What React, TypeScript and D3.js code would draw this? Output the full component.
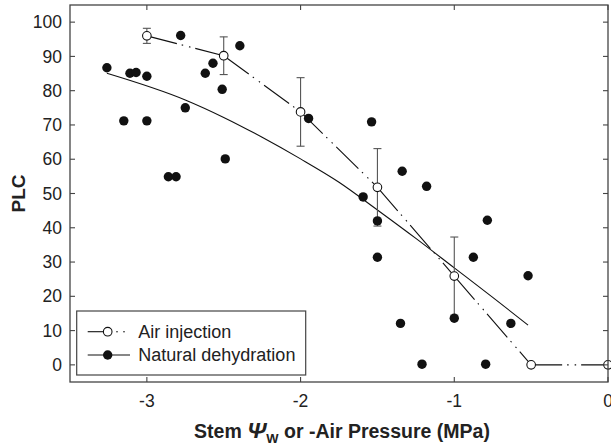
import React from "react";
import * as d3 from "d3";

// Natural dehydration measurements
const natX = [-3.26, -3.11, -3.07, -3.0, -3.15, -3.0, -2.86, -2.81, -2.78, -2.75, -2.62, -2.57, -2.51, -2.49, -2.395, -1.948, -1.538, -1.339, -1.18, -1.593, -1.5, -0.785, -1.5, -0.876, -0.52, -1.35, -1.0, -0.632, -1.21, -0.796];
const natY = [86.7, 85.1, 85.3, 84.2, 71.2, 71.2, 54.9, 54.9, 96.1, 75.0, 85.1, 88.0, 80.4, 60.1, 93.1, 71.9, 70.9, 56.5, 52.1, 49.0, 42.0, 42.2, 31.4, 31.4, 26.0, 12.1, 13.6, 12.1, 0.2, 0.2];

// Fitted curve for natural dehydration
const fitX = [-3.26, -2.75, -2.5, -2.25, -2.0, -1.75, -1.5, -1.25, -1.0, -0.75, -0.52];
const fitY = [85.1, 77.3, 72.2, 66.4, 60.1, 53.3, 45.2, 36.9, 28.3, 19.7, 11.6];

// Air injection means and error
const airX = [-3, -2.5, -2, -1.5, -1, -0.5, 0];
const airY = [96.0, 90.2, 73.8, 51.8, 25.9, 0, 0];
const airErr = [2.2, 5.5, 10, 11.3, 11.4, 0, 0];

const xTicks = [-3, -2, -1, 0];
const yTicks = [0, 10, 20, 30, 40, 50, 60, 70, 80, 90, 100];

const W = 611, H = 446;
const L = 70, R = 608, T = 5, B = 382;

export default function App() {
  const x = d3.scaleLinear().domain([-3.5, 0]).range([L, R]);
  const y = d3.scaleLinear().domain([-5, 105]).range([B, T]);
  const fitLine = d3.line<number>().x((_, i) => x(fitX[i])).y((d) => y(d)).curve(d3.curveMonotoneX);
  const dash = "31,5,1.5,6,1.5,5";
  const font = "Arial, 'Liberation Sans', Helvetica, sans-serif";
  const tickLen = 5;
  const frameColor = "#444";

  return (
    <svg width={W} height={H} style={{ position: "absolute", left: 0, top: 0, background: "#fff" }} fontFamily={font}>
      {/* fitted curve */}
      <path d={fitLine(fitY) || ""} fill="none" stroke="#111" strokeWidth={1.1} />
      {/* air injection segments */}
      {airX.slice(0, -1).map((v, i) => (
        <line key={"seg" + i} x1={x(v)} y1={y(airY[i])} x2={x(airX[i + 1])} y2={y(airY[i + 1])}
          stroke="#111" strokeWidth={1.1} strokeDasharray={dash} />
      ))}
      {/* error bars */}
      {airX.map((v, i) => airErr[i] > 0 ? (
        <g key={"err" + i} stroke="#555" strokeWidth={1.1}>
          <line x1={x(v)} x2={x(v)} y1={y(airY[i] - airErr[i])} y2={y(airY[i] + airErr[i])} />
          <line x1={x(v) - 4} x2={x(v) + 4} y1={y(airY[i] + airErr[i])} y2={y(airY[i] + airErr[i])} />
          <line x1={x(v) - 4} x2={x(v) + 4} y1={y(airY[i] - airErr[i])} y2={y(airY[i] - airErr[i])} />
        </g>
      ) : null)}
      {/* natural dehydration points */}
      {natX.map((v, i) => (
        <circle key={"n" + i} cx={x(v)} cy={y(natY[i])} r={4.7} fill="#111" />
      ))}
      {/* air injection points */}
      {airX.map((v, i) => (
        <circle key={"a" + i} cx={x(v)} cy={y(airY[i])} r={4.3} fill="#fff" stroke="#111" strokeWidth={1.1} />
      ))}
      {/* frame */}
      <rect x={L} y={T} width={R - L} height={B - T} fill="none" stroke={frameColor} strokeWidth={1.3} />
      {/* ticks */}
      {yTicks.map((t) => (
        <g key={"yt" + t} stroke={frameColor} strokeWidth={1.1}>
          <line x1={L} x2={L + tickLen} y1={y(t)} y2={y(t)} />
          <line x1={R} x2={R - tickLen} y1={y(t)} y2={y(t)} />
        </g>
      ))}
      {xTicks.map((t) => (
        <g key={"xt" + t} stroke={frameColor} strokeWidth={1.1}>
          <line x1={x(t)} x2={x(t)} y1={B} y2={B - tickLen} />
          <line x1={x(t)} x2={x(t)} y1={T} y2={T + tickLen} />
        </g>
      ))}
      {/* tick labels */}
      {yTicks.map((t) => (
        <text key={"yl" + t} x={L - 8} y={y(t)} dy="0.35em" textAnchor="end" fontSize={17.5} fill="#222">{t}</text>
      ))}
      {xTicks.map((t) => (
        <text key={"xl" + t} x={x(t)} y={407} textAnchor="middle" fontSize={17.5} fill="#222">{t}</text>
      ))}
      {/* axis titles */}
      <text transform={`translate(25,${(T + B) / 2}) rotate(-90)`} textAnchor="middle" fontSize={19} fontWeight="bold" fill="#222">PLC</text>
      <text x={(L + R) / 2 + 3} y={438} textAnchor="middle" fontSize={19.5} fontWeight="bold" fill="#222">
        Stem <tspan fontStyle="italic" fontSize={23}>Ψ</tspan><tspan fontSize={13} dy={5}>W</tspan><tspan dy={-5}> or -Air Pressure (MPa)</tspan>
      </text>
      {/* legend */}
      <rect x={76.7} y={311} width={229} height={64} fill="#fff" stroke={frameColor} strokeWidth={1.2} />
      <line x1={87.7} x2={104} y1={331.7} y2={331.7} stroke="#111" strokeWidth={1.1} />
      <circle cx={107.7} cy={331.7} r={4.3} fill="#fff" stroke="#111" strokeWidth={1.1} />
      <circle cx={117} cy={331.7} r={0.8} fill="#111" />
      <circle cx={124} cy={331.7} r={0.8} fill="#111" />
      <text x={138.3} y={331.7} dy="0.35em" fontSize={18} fill="#222">Air injection</text>
      <line x1={87.7} x2={130} y1={355} y2={355} stroke="#111" strokeWidth={1.1} />
      <circle cx={107.7} cy={355} r={4.7} fill="#111" />
      <text x={138.3} y={355} dy="0.35em" fontSize={18} fill="#222">Natural dehydration</text>
    </svg>
  );
}
